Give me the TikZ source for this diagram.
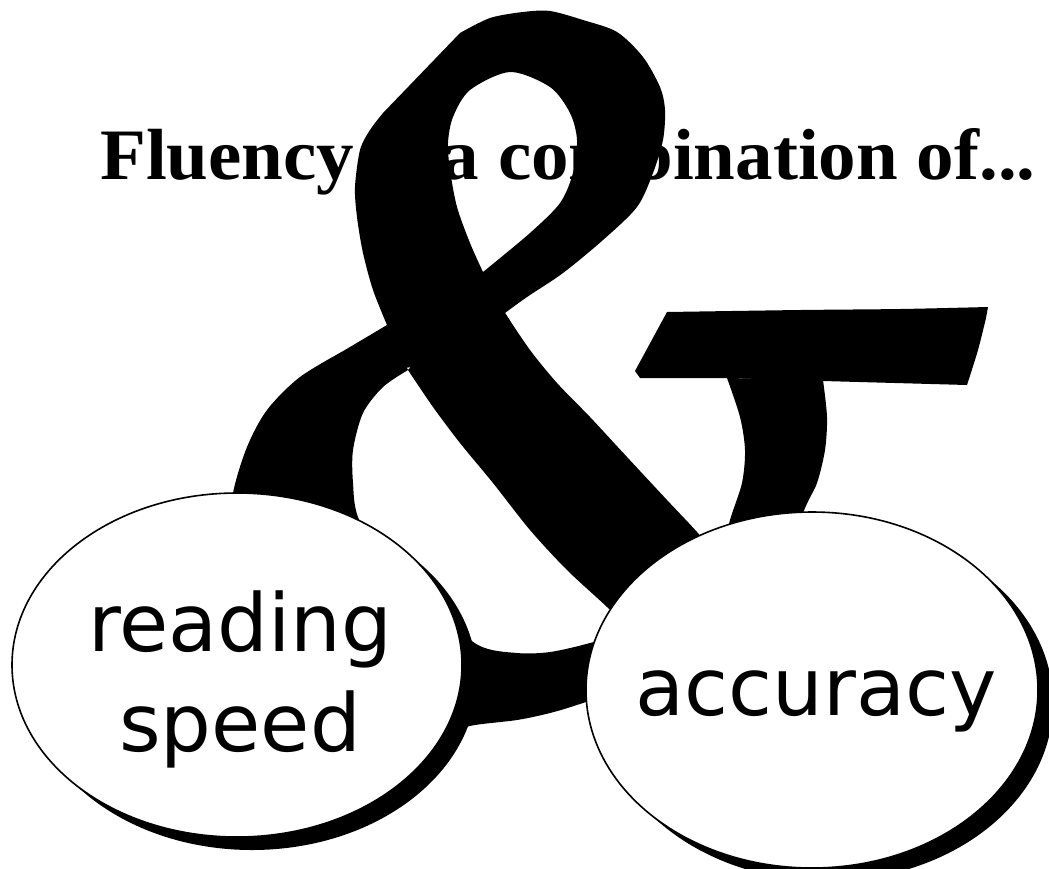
\documentclass[tikz,border=0pt]{standalone}
\usepackage{fontspec}
\usepackage{graphicx}
\usetikzlibrary{shapes.geometric,shadows}
\newfontfamily\titlefont{Liberation Serif}
\newfontfamily\bubblefont{DejaVu Sans}
\begin{document}
\begin{tikzpicture}[x=1pt,y=-1pt,
  inkfill/.style={fill=black},
  bubble/.style={ellipse, draw=black, line width=1.6pt, fill=white, inner sep=0pt,
    drop shadow={shadow xshift=15pt, shadow yshift=-13pt, fill=black, opacity=1}},
  bubbletext/.style={font=\bubblefont\fontsize{80}{100}\selectfont, inner sep=0pt, align=center}]
\useasboundingbox (0,0) rectangle (1049,868);
\fill[white] (0,0) rectangle (1049,868);

% title
\node[anchor=base west, inner sep=0pt] (title) at (100,179)
  {\resizebox{935pt}{51pt}{\titlefont\bfseries Fluency is a combination of...}};

% ampersand: upper loop with its hole
\fill[inkfill, even odd rule]
  plot[smooth] coordinates {(505,313) (527,297) (563,273) (603,240) (637,207) (653,173) (663,140) (665,110) (660,87) (643,57) (617,32) (583,20) (550,11) (523,12) (490,18) (460,33)}
  -- (383,113)
  -- plot[smooth] coordinates {(383,113) (370,130) (360,150) (355,187) (357,217) (363,253) (373,290) (387,325)}
  -- (405,368) -- (528,350) -- cycle
  (483,272) -- plot[smooth] coordinates {(483,272) (470,243) (457,207) (450,170) (448,143) (453,117) (470,90) (510,72) (550,87) (570,113) (577,140) (573,173) (560,203) (530,233) (483,272)} -- cycle;
% diagonal stroke
\fill[inkfill]
  plot[smooth] coordinates {(505,313) (530,350) (557,383) (590,417) (627,457) (667,500) (697,532) (722,562)}
  -- (640,640)
  -- plot[smooth] coordinates {(640,640) (607,607) (567,570) (530,530) (493,483) (460,443) (433,407) (408,370)}
  -- (470,300) -- cycle;
% lower bowl and stem
\fill[inkfill]
  plot[smooth] coordinates {(387,325) (350,347) (300,377) (267,410) (247,447) (233,493) (228,545) (250,650) (330,720) (420,735) (475,725) (517,720) (550,713) (583,703) (680,670) (770,590) (805,508) (817,483) (825,450) (827,417) (823,380)}
  -- (727,378)
  -- plot[smooth] coordinates {(727,378) (740,417) (745,450) (742,483) (730,520) (715,575) (650,625) (590,643) (550,652) (517,653) (478,645) (430,605) (385,565) (358,517) (353,483) (353,450) (363,413) (383,387) (408,370)}
  -- cycle;
% top bar
\fill[inkfill]
  plot[smooth] coordinates {(667,312) (800,310) (900,309) (988,307)}
  -- (986,318)
  -- plot[smooth] coordinates {(986,318) (978,350) (967,385)}
  -- (823,381) -- (727,378) -- (640,378) -- (635,371) -- cycle;

% bubbles
\node[bubble, minimum width=450pt, minimum height=344pt] (rs) at (237,665) {};
\node[bubble, minimum width=452pt, minimum height=356pt] (ac) at (812,690) {};
\node[bubbletext, anchor=north] (rstxt) at (240,591) {reading\\speed};
\node[bubbletext, anchor=base] (actxt) at (816,715) {accuracy};
\end{tikzpicture}
\end{document}
